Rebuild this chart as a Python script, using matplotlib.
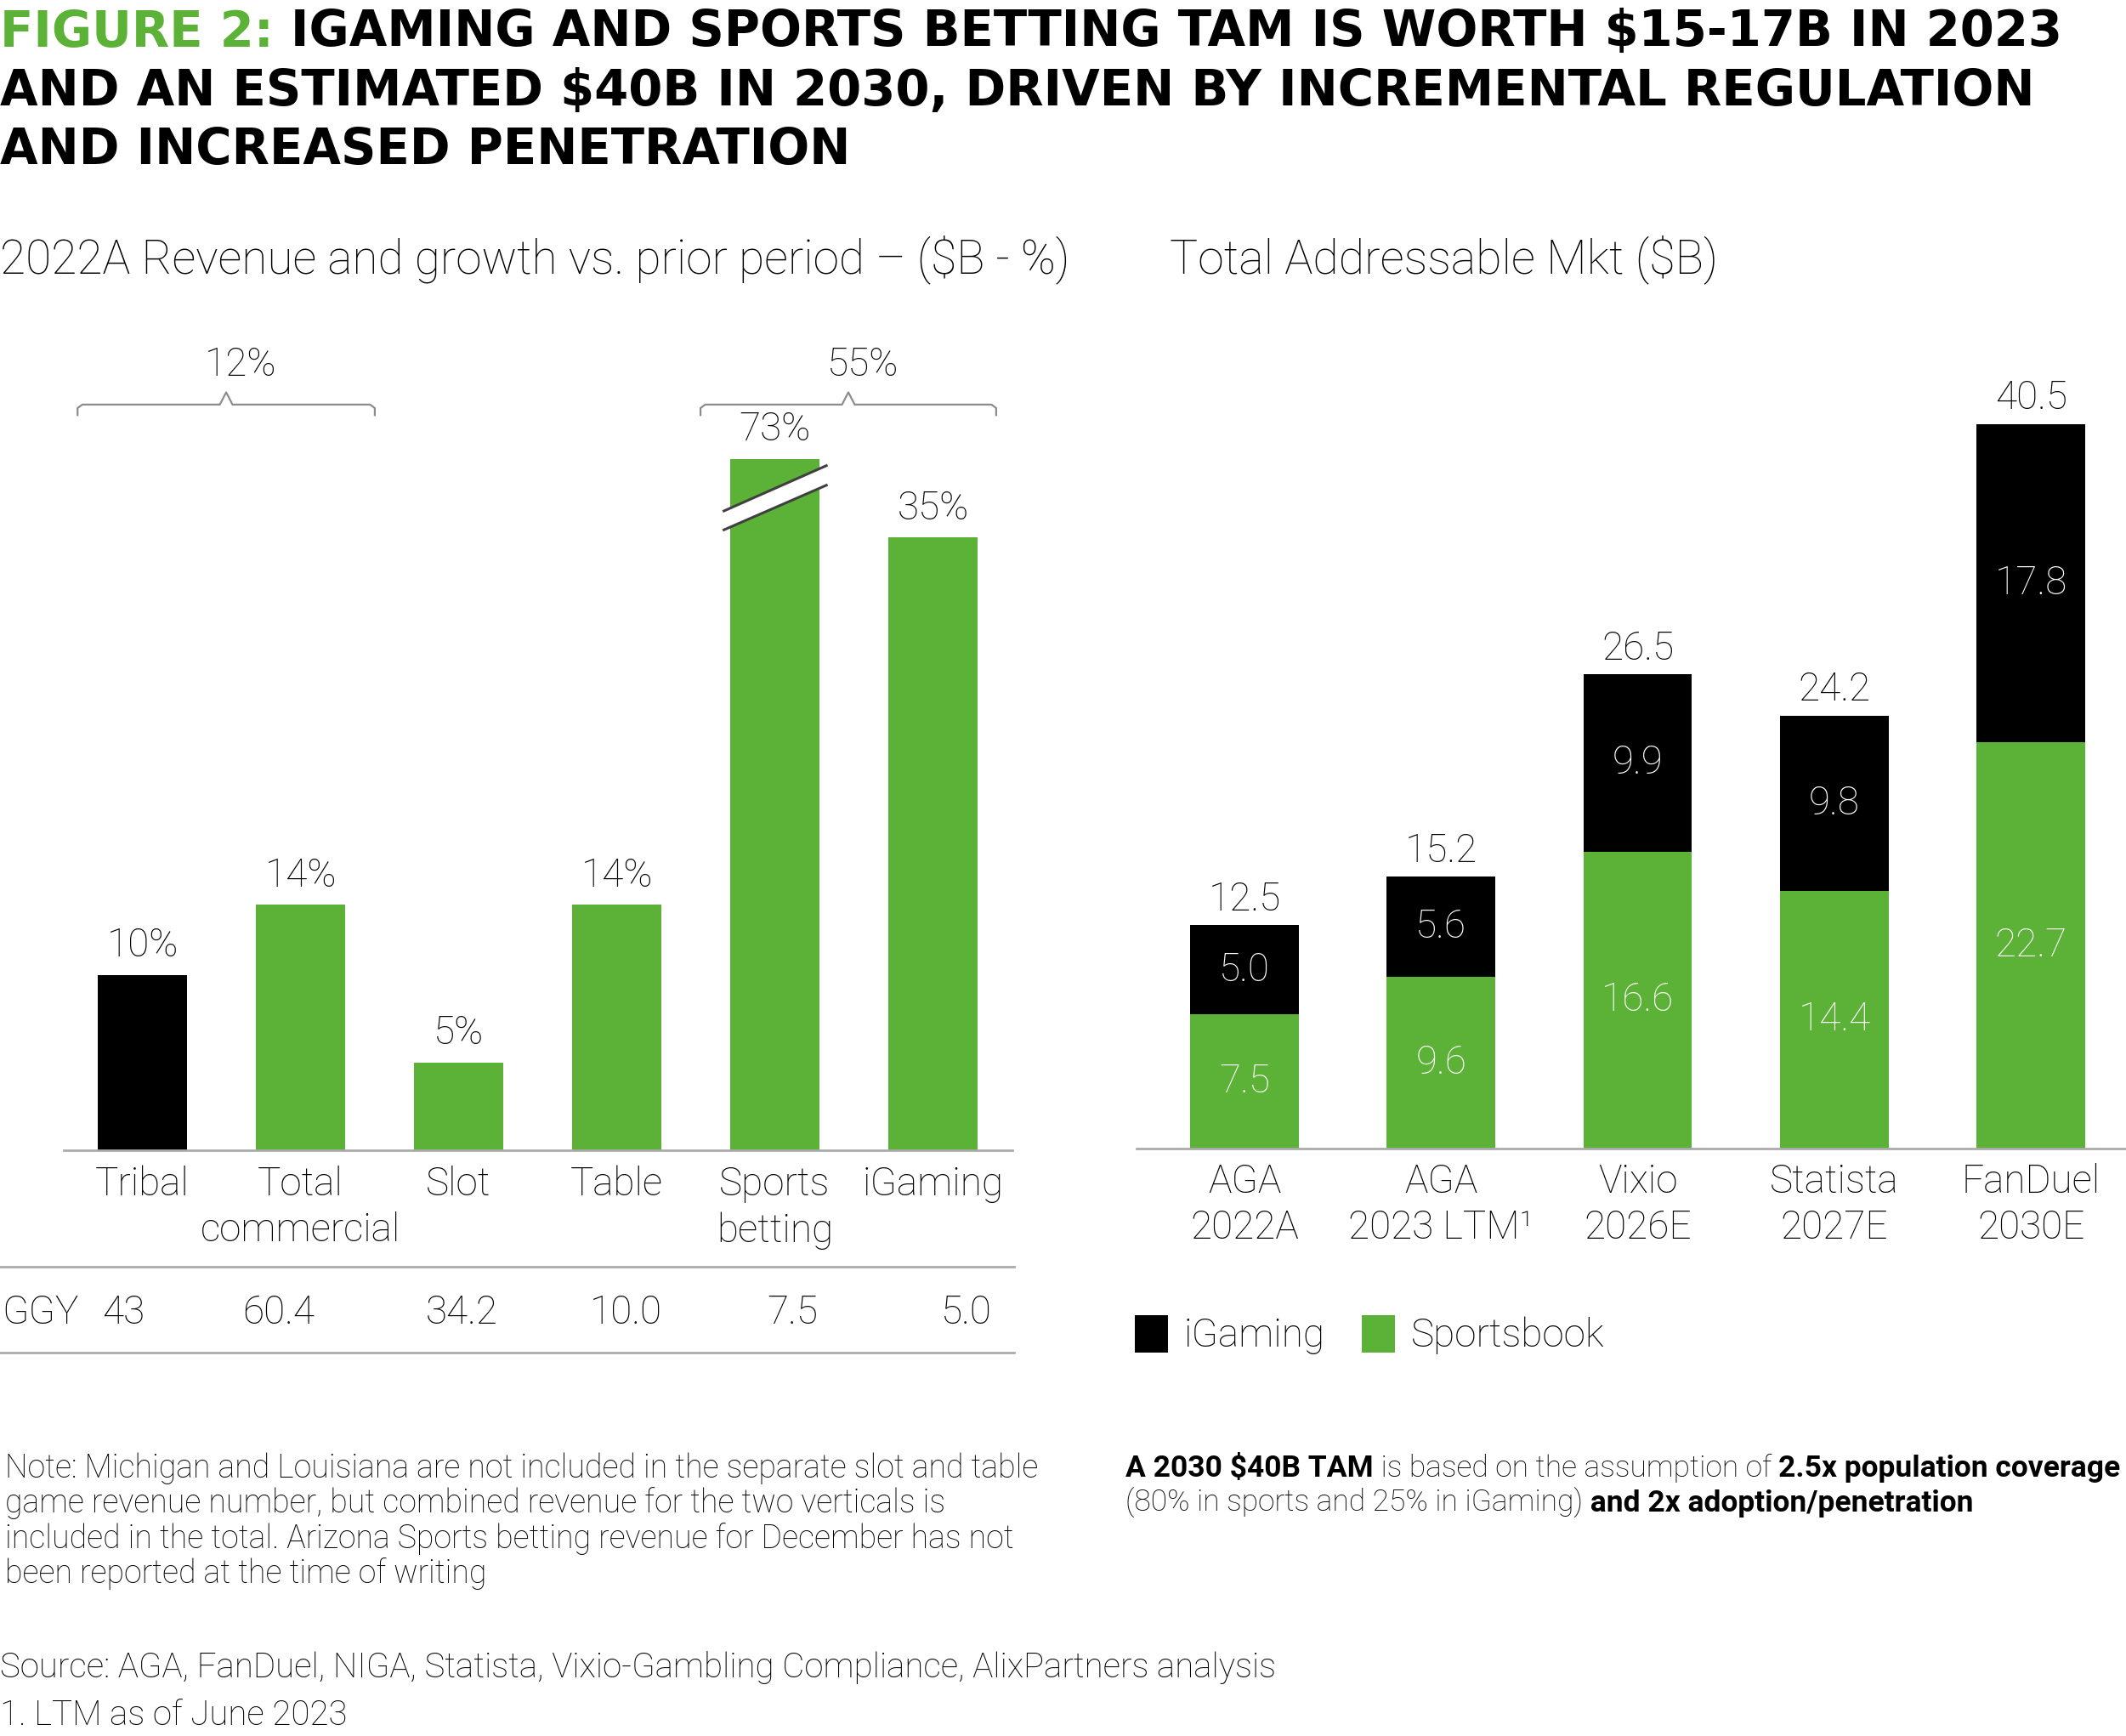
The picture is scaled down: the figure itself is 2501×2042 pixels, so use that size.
import matplotlib
matplotlib.use('Agg')
from matplotlib import pyplot as plt
from matplotlib import transforms
from matplotlib.lines import Line2D
from matplotlib.patches import Polygon, Patch

plt.rcParams['font.family'] = ['Roboto', 'DejaVu Sans']
plt.rcParams['font.weight'] = 'light'

GREEN = '#5CB236'
GREY = '#ABABAB'
BRACE = '#8C8C8C'

# left chart: 2022A revenue growth vs prior period
rev_categories = ['Tribal', 'Total\ncommercial', 'Slot', 'Table', 'Sports\nbetting', 'iGaming']
rev_growth = [10, 14, 5, 14, 73, 35]
rev_is_tribal = [True, False, False, False, False, False]
ggy_values = ['43', '60.4', '34.2', '10.0', '7.5', '5.0']
ggy_shift = [-0.12, -0.14, 0.02, 0.06, 0.11, 0.21]
group_labels = ['12%', '55%']
group_spans = [(-0.41, 1.47), (3.53, 5.40)]
BREAK_AT = 39.5  # sports betting bar is cut with a break mark

# right chart: total addressable market
tam_sources = ['AGA\n2022A', 'AGA\n2023 LTM¹', 'Vixio\n2026E', 'Statista\n2027E', 'FanDuel\n2030E']
sportsbook = [7.5, 9.6, 16.6, 14.4, 22.7]
igaming = [5.0, 5.6, 9.9, 9.8, 17.8]
tam_total = [12.5, 15.2, 26.5, 24.2, 40.5]

W, H = 2501, 2042
fig = plt.figure(figsize=(W / 100, H / 100), dpi=100)
fig.patch.set_facecolor('white')

LBL = 33
TSIZE = 41.5


def runs(x, y, parts, size):
  # draw text pieces one after another on a line (mixed bold / light)
  fig.canvas.draw()
  r = fig.canvas.get_renderer()
  for s, color, weight, fam in parts:
    t = fig.text(x / W, 1 - y / H, s, color=color, fontsize=size, fontweight=weight,
                 family=fam, va='center', ha='left')
    bb = t.get_window_extent(renderer=r)
    x += bb.width


# title
TFONT = ['DejaVu Sans']
runs(0, 38, [('FIGURE 2: ', GREEN, 'bold', TFONT),
             ('IGAMING AND SPORTS BETTING TAM IS WORTH $15-17B IN 2023', 'black', 'bold', TFONT)], TSIZE)
fig.text(0, 1 - 108 / H, 'AND AN ESTIMATED $40B IN 2030, DRIVEN BY INCREMENTAL REGULATION',
         fontsize=TSIZE, fontweight='bold', family=TFONT, va='center')
fig.text(0, 1 - 177 / H, 'AND INCREASED PENETRATION',
         fontsize=TSIZE, fontweight='bold', family=TFONT, va='center')

fig.text(0, 1 - 305 / H, '2022A Revenue and growth vs. prior period – ($B - %)', fontsize=39.6, va='center')
fig.text(1376 / W, 1 - 305 / H, 'Total Addressable Mkt ($B)', fontsize=40, va='center')

# ---- left chart
ax = fig.add_axes([74.5 / W, (H - 1352.6) / H, 1116 / W, 1029 / H])
ax.set_xlim(-0.5, 5.5)
ax.set_ylim(0, 50)
xs = list(range(len(rev_categories)))
heights = [min(v, BREAK_AT) for v in rev_growth]
colors = ['black' if t else GREEN for t in rev_is_tribal]
ax.bar(xs, heights, width=0.56, color=colors)
for x, h, v in zip(xs, heights, rev_growth):
  ax.text(x, h + 0.6, f'{v}%', ha='center', va='bottom', fontsize=LBL)

# break mark on sports betting bar
bx = rev_categories.index('Sports\nbetting')
x0, x1 = bx - 0.322, bx + 0.326
ax.add_patch(Polygon([(x0, 35.44), (x1, 37.99), (x1, 39.11), (x0, 36.52)],
                     closed=True, facecolor='white', edgecolor='none', zorder=3, clip_on=False))
for ya, yb in [(36.52, 39.11), (35.44, 37.99)]:
  ax.plot([x0, x1], [ya, yb], color='#404040', lw=2.2, zorder=4, clip_on=False)

# group braces
for (a, b), lab in zip(group_spans, group_labels):
  m = (a + b) / 2
  ax.plot([a, a, a + 0.03, m - 0.04, m, m + 0.04, b - 0.03, b, b],
          [42.0, 42.4, 42.6, 42.6, 43.3, 42.6, 42.6, 42.4, 42.0],
          color=BRACE, lw=1.6, clip_on=False)
  ax.text(m + 0.09, 44.9, lab, ha='center', va='center', fontsize=LBL)

ax.set_xticks(xs)
ax.set_xticklabels(rev_categories, fontsize=LBL, va='top', linespacing=1.3)
ax.tick_params(axis='x', length=0, pad=13)
ax.set_yticks([])
for s in ['top', 'left', 'right']:
  ax.spines[s].set_visible(False)
ax.spines['bottom'].set_color(GREY)
ax.spines['bottom'].set_linewidth(2)

# GGY row
for yy in [1490, 1591]:
  fig.add_artist(Line2D([0, 1193 / W], [1 - yy / H, 1 - yy / H], color=GREY, lw=2))
fig.text(2 / W, 1 - 1544 / H, 'GGY', fontsize=LBL, va='center')
tr = transforms.blended_transform_factory(ax.transData, fig.transFigure)
for x, v, d in zip(xs, ggy_values, ggy_shift):
  ax.text(x + d, 1 - 1544 / H, v, transform=tr, ha='center', va='center', fontsize=LBL)

# ---- right chart
ax2 = fig.add_axes([1336.8 / W, (H - 1351) / H, (W - 1336.8) / W, 947 / H])
ax2.set_xlim(-0.55, 4.483)
ax2.set_ylim(0, 45)
xr = list(range(len(tam_sources)))
ax2.bar(xr, sportsbook, width=0.552, color=GREEN, label='Sportsbook')
ax2.bar(xr, igaming, width=0.552, bottom=sportsbook, color='black', label='iGaming')
for x, s, g, t in zip(xr, sportsbook, igaming, tam_total):
  ax2.text(x, s / 2, f'{s:.1f}', ha='center', va='center', color='white', fontsize=LBL)
  ax2.text(x, s + g / 2, f'{g:.1f}', ha='center', va='center', color='white', fontsize=LBL)
  ax2.text(x, t + 0.4, f'{t:.1f}', ha='center', va='bottom', fontsize=LBL)
ax2.set_xticks(xr)
ax2.set_xticklabels(tam_sources, fontsize=LBL, va='top', linespacing=1.3)
ax2.tick_params(axis='x', length=0, pad=12)
ax2.set_yticks([])
for s in ['top', 'left', 'right']:
  ax2.spines[s].set_visible(False)
ax2.spines['bottom'].set_color(GREY)
ax2.spines['bottom'].set_linewidth(2)

handles = [Patch(facecolor='black'), Patch(facecolor=GREEN)]
fig.legend(handles, ['iGaming', 'Sportsbook'], loc='center left',
           bbox_to_anchor=(1294 / W, 1 - 1570 / H), ncol=2, frameon=False, fontsize=LBL,
           handlelength=0.85, handleheight=1.1, handletextpad=0.4, columnspacing=0.95)

# notes
note = ['Note: Michigan and Louisiana are not included in the separate slot and table',
        'game revenue number, but combined revenue for the two verticals is',
        'included in the total. Arizona Sports betting revenue for December has not',
        'been reported at the time of writing']
for i, line in enumerate(note):
  fig.text(6 / W, 1 - (1727 + i * 41.5) / H, line, fontsize=27, va='center')

RF = ['Roboto', 'DejaVu Sans']
runs(1324, 1727, [('A 2030 $40B TAM', 'black', 'bold', RF),
                  (' is based on the assumption of ', 'black', 'light', RF),
                  ('2.5x population coverage', 'black', 'bold', RF)], 25.5)
runs(1324, 1768, [('(80% in sports and 25% in iGaming)', 'black', 'light', RF),
                  (' and 2x adoption/penetration', 'black', 'bold', RF)], 25.5)

fig.text(0, 1 - 1961 / H, 'Source: AGA, FanDuel, NIGA, Statista, Vixio-Gambling Compliance, AlixPartners analysis',
         fontsize=29, va='center')
fig.text(0, 1 - 2018 / H, '1. LTM as of June 2023', fontsize=29, va='center')

fig.savefig('out.png', dpi=100, facecolor='white')
